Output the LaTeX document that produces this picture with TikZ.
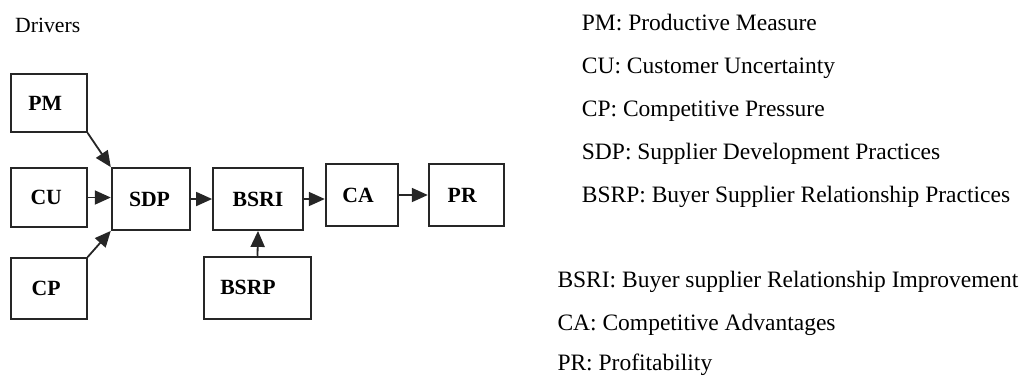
\documentclass[tikz,border=0pt]{standalone}
\usepackage{fontspec}
\setmainfont{Liberation Serif}
\usetikzlibrary{arrows.meta}
\begin{document}
\begin{tikzpicture}[x=1pt,y=-1pt,
  box/.style={draw=black!85,line width=1.8pt,rectangle,inner sep=0pt,
    font=\fontsize{21.7}{24}\selectfont\bfseries},
  arr/.style={draw=black!85,line width=1.8pt,-{Triangle[length=16pt,width=14pt]}},
  lbl/.style={anchor=base west,inner sep=0pt,font=\fontsize{23.5}{26}\selectfont},
  ttl/.style={anchor=base west,inner sep=0pt,font=\fontsize{21.7}{24}\selectfont}]
\useasboundingbox (0,0) rectangle (1024,376);
\node[ttl] (drv) at (15,32) {Drivers};
% boxes
\node[box,minimum width=76pt,minimum height=58pt] (PM) at (48.7,103) {PM\kern7pt};
\node[box,minimum width=76pt,minimum height=59pt] (CU) at (48.7,197.5) {CU\kern5pt};
\node[box,minimum width=76pt,minimum height=61pt] (CP) at (48.7,288.5) {CP\kern5pt};
\node[box,minimum width=78.6pt,minimum height=62pt] (SDP) at (151,199) {SDP\kern3pt};
\node[box,minimum width=90pt,minimum height=62pt] (BSRI) at (258,199) {BSRI};
\node[box,minimum width=72.6pt,minimum height=62pt] (CA) at (362,195) {CA\kern8pt};
\node[box,minimum width=75pt,minimum height=62pt] (PR) at (466.2,195) {PR\kern8pt};
\node[box,minimum width=107.6pt,minimum height=62.3pt] (BSRP) at (257.5,287.8) {BSRP\kern19pt};
% arrows
\draw[arr] (PM.south east) -- (SDP.north west);
\draw[arr] (CP.north east) -- (SDP.south west);
\draw[arr] (CU.east) -- (SDP.west |- CU.east);
\draw[arr] (SDP.east) -- (BSRI.west |- SDP.east);
\draw[arr] (BSRI.east) -- (CA.west |- BSRI.east);
\draw[arr] (CA.east) -- (PR.west);
\draw[arr] (BSRP.north) -- (BSRI.south);
% legend
\node[lbl] (l1) at (581.7,30) {PM: Productive Measure};
\node[lbl] (l2) at (581.7,73) {CU: Customer Uncertainty};
\node[lbl] (l3) at (581.7,116) {CP: Competitive Pressure};
\node[lbl] (l4) at (581.7,159) {SDP: Supplier Development Practices};
\node[lbl] (l5) at (581.7,202) {BSRP: Buyer Supplier Relationship Practices};
\node[lbl] (l6) at (557.3,287) {BSRI: Buyer supplier Relationship Improvement};
\node[lbl] (l7) at (557.3,330) {CA: Competitive Advantages};
\node[lbl] (l8) at (557.3,370) {PR: Profitability};
\end{tikzpicture}
\end{document}
